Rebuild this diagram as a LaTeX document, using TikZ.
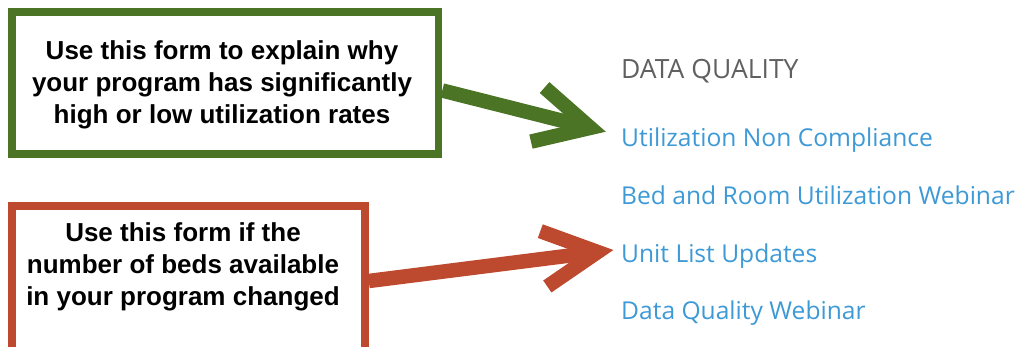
\documentclass[tikz,border=0pt]{standalone}
\usepackage{fontspec}
\usetikzlibrary{calc}
\newfontfamily\calloutfont{Liberation Sans}
\newfontfamily\menufont{Open Sans}
\definecolor{calloutgreen}{HTML}{4B7424}
\definecolor{calloutred}{HTML}{BD4A2F}
\definecolor{menulink}{HTML}{3D9AD6}
\definecolor{menuhead}{HTML}{606060}
\tikzset{
  callbox/.style={draw, line width=7.5pt, fill=white, inner sep=0pt},
  calltext/.style={align=center, inner sep=0pt, text=black,
    font=\calloutfont\bfseries\fontsize{26}{32}\selectfont},
  pointer/.style={line width=14.5pt},
  chevron/.style={line width=14.5pt, line join=miter},
  menuitem/.style={anchor=base west, inner sep=0pt, text=menulink,
    font=\menufont\fontsize{24.6}{28}\selectfont},
  menutitle/.style={anchor=base west, inner sep=0pt, text=menuhead,
    font=\menufont\fontsize{26.5}{30}\selectfont},
}
\begin{document}
\begin{tikzpicture}[x=1pt, y=-1pt]
\useasboundingbox (0,0) rectangle (1019,346);
\clip (0,0) rectangle (1019,346);
\fill[white] (0,0) rectangle (1019,346);

% callout boxes
\node[callbox, draw=calloutgreen, minimum width=426.5pt, minimum height=142pt]
  (gbox) at (225.25,83) {};
\node[calltext] (gtext) at (222,84.5)
  {Use this form to explain why\\your program has significantly\\high or low utilization rates};

\node[callbox, draw=calloutred, minimum width=353pt, minimum height=146pt]
  (rbox) at (188.5,279) {};
\node[calltext] (rtext) at (183,266.5)
  {Use this form if the\\number of beds available\\in your program changed};

% menu
\node[menutitle] (head) at (621,78) {DATA QUALITY};
\node[menuitem] (l1) at (621,146) {Utilization Non Compliance};
\node[menuitem] (l2) at (621,204) {Bed and Room Utilization Webinar};
\node[menuitem] (l3) at (621,262) {Unit List Updates};
\node[menuitem] (l4) at (621,319) {Data Quality Webinar};

% green pointer
\coordinate (gs) at ($(gbox.east)+(0,7.5)$);
\coordinate (gt) at (605.7,131.7);
\coordinate (ga) at ($(gt)!15.8pt!(gs)$);
\coordinate (gb1) at ($(ga)!61pt!27.2:(gs)$);
\coordinate (gb2) at ($(ga)!61pt!-27.2:(gs)$);
\draw[pointer, draw=calloutgreen] (gs) -- (ga);
\draw[chevron, draw=calloutgreen] (gb1) -- (ga) -- (gb2);

% red pointer
\coordinate (rs) at ($(rbox.east)+(0,2)$);
\coordinate (rt) at (613.3,250);
\coordinate (ra) at ($(rt)!15.8pt!(rs)$);
\coordinate (rb1) at ($(ra)!61pt!27.2:(rs)$);
\coordinate (rb2) at ($(ra)!61pt!-27.2:(rs)$);
\draw[pointer, draw=calloutred] (rs) -- (ra);
\draw[chevron, draw=calloutred] (rb1) -- (ra) -- (rb2);
\end{tikzpicture}
\end{document}
